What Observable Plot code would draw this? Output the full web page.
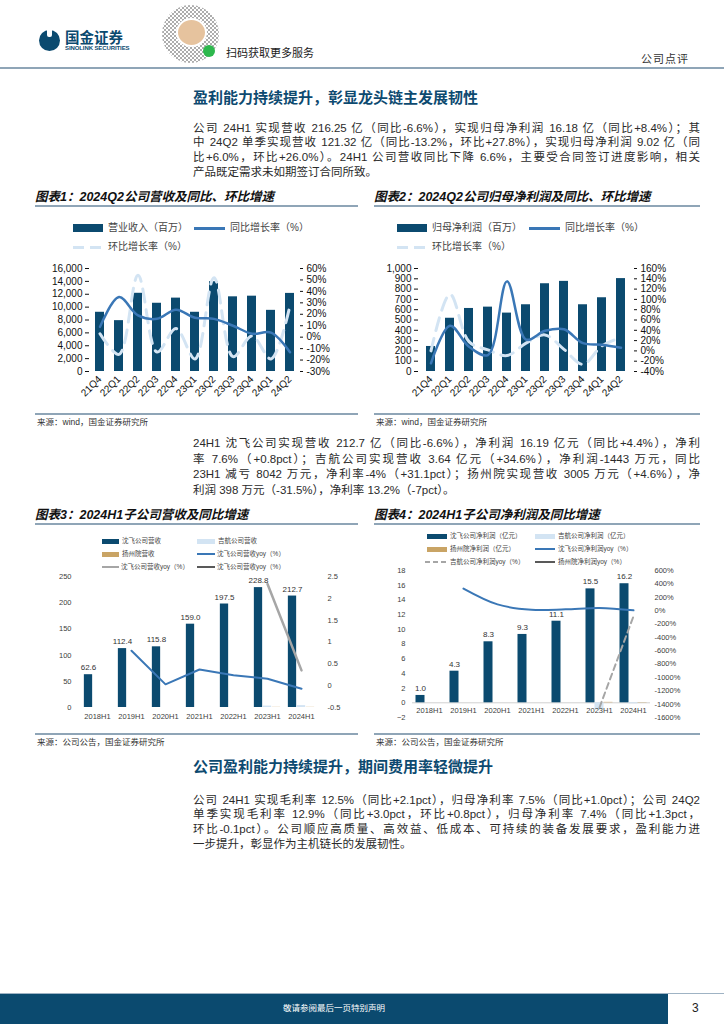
<!DOCTYPE html>
<html><head><meta charset="utf-8">
<script src="https://cdn.jsdelivr.net/npm/d3@7"></script>
<script src="https://cdn.jsdelivr.net/npm/@observablehq/plot@0.6"></script>
<style>
html,body{margin:0;padding:0}
body{width:724px;height:1024px;position:relative;overflow:hidden;background:#fff;font-family:"Liberation Sans","Noto Sans CJK SC",sans-serif;color:#222}
.a{position:absolute}
.h{font-weight:700;color:#0d4a70;font-size:15px;line-height:18px;white-space:nowrap}
.p{left:193px;width:507px;font-size:11.5px;color:#2a2a2a}
.p div{text-align:justify;text-align-last:justify;white-space:nowrap}
.p div.last{text-align:left;text-align-last:left}
.t{font-weight:700;font-style:italic;font-size:12.5px;line-height:16px;color:#111;white-space:nowrap}
.rule{height:1.5px;background:#8fa5b7}
.src{font-size:8.5px;line-height:10px;color:#333;white-space:nowrap}
.lg{white-space:nowrap;display:flex;align-items:center;color:#444}
</style></head><body>
<script>
// ---------- data ----------
const quarters=["21Q4","22Q1","22Q2","22Q3","22Q4","23Q1","23Q2","23Q3","23Q4","24Q1","24Q2"];
const revenue=[9200,7900,12150,10600,11400,9200,13950,11600,11700,9500,12132];
const revenueYoY=[9,35,19,16,24,17,16,10,3,4,-13.2];
const revenueQoQ=[3,-15,54,-13,7.5,-19,52,-17,1,-19,27.8];
const revTicks=[0,2000,4000,6000,8000,10000,12000,14000,16000];
const revPctTicks=[-30,-20,-10,0,10,20,30,40,50,60];

const profit=[243,517,612,625,567,648,852,875,648,716,902];
const profitYoY=[-24,49,8,-8,135,22,39,42,15,12,6];
const profitQoQ=[0,110,18,2,-9,15,31,3,-26,10,26];
const profitTicks=[0,100,200,300,400,500,600,700,800,900,1000];
const profitPctTicks=[-40,-20,0,20,40,60,80,100,120,140,160];

const halfYears=["2018H1","2019H1","2020H1","2021H1","2022H1","2023H1","2024H1"];
const sfRevenue=[62.6,112.4,115.8,159.0,197.5,228.8,212.7];
const jhRevenue=[null,null,null,null,null,2.70,3.64];
const yzRevenue=[null,null,null,null,null,0.29,0.30];
const sfRevenueYoY=[null,0.80,0.03,0.37,0.24,0.16,-0.07];
const jhRevenueYoY=[null,null,null,null,null,2.33,0.35];
const subRevTicks=[0,50,100,150,200,250];
const subRevYoYTicks=[-0.5,0,0.5,1,1.5,2,2.5];

const sfProfit=[1.0,4.3,8.3,9.3,11.1,15.5,16.2];
const jhProfit=[null,null,null,null,null,-0.95,-0.14];
const yzProfit=[null,null,null,null,null,0.06,0.04];
const sfProfitYoY=[null,330,93,12,19,40,4.4];
const jhProfitYoY=[null,null,null,null,null,-1450,-85];
const subProfitTicks=[-2,0,2,4,6,8,10,12,14,16,18];
const subProfitYoYTicks=[-1600,-1400,-1200,-1000,-800,-600,-400,-200,0,200,400,600];

// ---------- colours ----------
const NAVY="#0b4a6f", MID="#3a77b6", LIGHT="#d3e4f3", TAN="#c9a465", GRAY="#a6a6a6", DGRAY="#595959";

// ---------- helpers ----------
function el(html,cls,left,top,style){const d=document.createElement("div");d.className="a "+(cls||"");d.style.left=left+"px";d.style.top=top+"px";if(style)d.style.cssText+=style;d.innerHTML=html;document.body.appendChild(d);return d;}
function place(node,left,top){const d=document.createElement("div");d.className="a";d.style.left=left+"px";d.style.top=top+"px";d.appendChild(node);document.body.appendChild(d);}
function para(lines,top,lh){const d=el("", "p",193,top,"line-height:"+lh+"px");lines.forEach((t,i)=>{const l=document.createElement("div");if(i===lines.length-1)l.className="last";l.textContent=t;d.appendChild(l);});}
function swatch(kind,color,w,h){
  if(kind==="bar"||kind==="line")return `<span style="display:inline-block;width:${w}px;height:${h}px;background:${color}"></span>`;
  const a=kind==="dash2"?5:11, b=kind==="dash2"?8:17;
  return `<span style="display:inline-block;width:${w}px;height:${h}px;background:repeating-linear-gradient(90deg,${color} 0 ${a}px,transparent ${a}px ${b}px)"></span>`;
}
function leg(x,yc,kind,color,label,fs,w,h,gap){
  el(swatch(kind,color,w,h)+`<span style="margin-left:${gap}px;font-size:${fs}px;line-height:${fs+2}px">${label}</span>`,"lg",x,yc-(fs+2)/2,"height:"+(fs+2)+"px");
}

// ---------- header ----------
el("", "",39,30,"width:21px;height:21px;border-radius:50%;background:"+NAVY);
el("", "",47,29,"width:5px;height:8px;background:#fff;border-radius:0 0 2px 2px");
el("国金证券","",65,29,"font-size:14.5px;line-height:18px;font-weight:700;color:"+NAVY+";white-space:nowrap");
el("SINOLINK SECURITIES","",65,45,"font-size:6px;line-height:7px;font-weight:700;color:"+NAVY+";white-space:nowrap;letter-spacing:-0.1px");
el("", "",162,5,"width:57px;height:58px;border-radius:50%;background:repeating-conic-gradient(#6b6b6b 0 25%,#fff 0 50%) 0 0/4px 4px;opacity:0.55");
el("", "",176,18,"width:27px;height:25px;border-radius:50%;background:#e6c39e;border:2px solid #fff");
el("", "",203,45,"width:12px;height:12px;border-radius:50%;background:#2db84d");
el("扫码获取更多服务","",226,46,"font-size:11px;line-height:14px;color:#222;white-space:nowrap");
el("公司点评","",641,52,"font-size:11px;line-height:14px;color:#333;white-space:nowrap;letter-spacing:1px");
el("", "rule",0,67,"width:724px");

// ---------- section 1 ----------
el("盈利能力持续提升，彰显龙头链主发展韧性","h",193,89);
para([
 "公司 24H1 实现营收 216.25 亿（同比-6.6%），实现归母净利润 16.18 亿（同比+8.4%）；其",
 "中 24Q2 单季实现营收 121.32 亿（同比-13.2%，环比+27.8%），实现归母净利润 9.02 亿（同",
 "比+6.0%，环比+26.0%）。24H1 公司营收同比下降 6.6%，主要受合同签订进度影响，相关",
 "产品既定需求未如期签订合同所致。"],120.6,14.7);

// chart titles 1/2
el("图表1：2024Q2公司营收及同比、环比增速","t",35,189);
el("", "rule",35,205,"width:323px");
el("图表2：2024Q2公司归母净利润及同比、环比增速","t",374,189);
el("", "rule",374,205,"width:326px");

// legends 1/2
leg(73,228,"bar",NAVY,"营业收入（百万）",10,30,8,5);
leg(194,228,"line",MID,"同比增长率（%）",10,31,3,5);
leg(73,247,"dash",LIGHT,"环比增长率（%）",10,30,3,5);
leg(397,228,"bar",NAVY,"归母净利润（百万）",10,30,8,5);
leg(529,228,"line",MID,"同比增长率（%）",10,31,3,5);
leg(397,247,"dash",LIGHT,"环比增长率（%）",10,30,3,5);

// chart 1
const y1=p=>(p+30)/90*16000, y1i=v=>v/16000*90-30;
const d1=quarters.map((q,i)=>({q,v:revenue[i],yoy:y1(revenueYoY[i]),qoq:y1(revenueQoQ[i])}));
place(Plot.plot({
  width:330,height:161,marginLeft:59,marginRight:61,marginTop:13,marginBottom:45,
  style:{fontFamily:"Liberation Sans, Arial, sans-serif",fontSize:"10px",color:"#111",background:"transparent",overflow:"visible"},
  x:{domain:quarters,paddingInner:0.53,paddingOuter:0.23},
  y:{domain:[0,16000]},
  marks:[
    Plot.barY(d1,{x:"q",y:"v",fill:NAVY}),
    Plot.line(d1,{x:"q",y:"qoq",stroke:LIGHT,strokeWidth:3,strokeDasharray:"13 8",curve:"catmull-rom"}),
    Plot.line(d1,{x:"q",y:"yoy",stroke:MID,strokeWidth:2.5,curve:"catmull-rom"}),
    Plot.axisY(revTicks,{anchor:"left",tickSize:4,tickPadding:3,tickFormat:d3.format(","),line:true,label:null}),
    Plot.axisY(revPctTicks.map(y1),{anchor:"right",tickSize:3,tickPadding:4,tickFormat:d=>Math.round(y1i(d))+"%",line:true,label:null}),
    Plot.axisX({tickRotate:-45,tickSize:0,tickPadding:6,line:true,label:null})
  ]}),30,255);

// chart 2
const y2=p=>(p+40)/200*1000, y2i=v=>v/1000*200-40;
const d2=quarters.map((q,i)=>({q,v:profit[i],yoy:y2(profitYoY[i]),qoq:y2(profitQoQ[i])}));
place(Plot.plot({
  width:330,height:161,marginLeft:48,marginRight:67,marginTop:13,marginBottom:45,
  style:{fontFamily:"Liberation Sans, Arial, sans-serif",fontSize:"10px",color:"#111",background:"transparent",overflow:"visible"},
  x:{domain:quarters,paddingInner:0.51,paddingOuter:0.27},
  y:{domain:[0,1000]},
  marks:[
    Plot.barY(d2,{x:"q",y:"v",fill:NAVY}),
    Plot.line(d2,{x:"q",y:"qoq",stroke:LIGHT,strokeWidth:3,strokeDasharray:"13 8",curve:"catmull-rom"}),
    Plot.line(d2,{x:"q",y:"yoy",stroke:MID,strokeWidth:2.5,curve:"catmull-rom"}),
    Plot.axisY(profitTicks,{anchor:"left",tickSize:4,tickPadding:3,tickFormat:d3.format(","),line:true,label:null}),
    Plot.axisY(profitPctTicks.map(y2),{anchor:"right",tickSize:3,tickPadding:4,tickFormat:d=>Math.round(y2i(d))+"%",line:true,label:null}),
    Plot.axisX({tickRotate:-45,tickSize:0,tickPadding:6,line:true,label:null})
  ]}),370,255);

// sources 1/2
el("", "rule",35,413,"width:323px");
el("", "rule",374,413,"width:326px");
el("来源：wind，国金证券研究所","src",37,417);
el("来源：wind，国金证券研究所","src",376,417);

// ---------- paragraph 2 ----------
para([
 "24H1 沈飞公司实现营收 212.7 亿（同比-6.6%），净利润 16.19 亿元（同比+4.4%），净利",
 "率 7.6%（+0.8pct）；吉航公司实现营收 3.64 亿元（+34.6%），净利润-1443 万元，同比",
 "23H1 减亏 8042 万元，净利率-4%（+31.1pct）；扬州院实现营收 3005 万元（+4.6%），净",
 "利润 398 万元（-31.5%），净利率 13.2%（-7pct）。"],436,15.7);

// chart titles 3/4
el("图表3：2024H1子公司营收及同比增速","t",35,507);
el("", "rule",35,523,"width:323px");
el("图表4：2024H1子公司净利润及同比增速","t",374,507);
el("", "rule",374,523,"width:326px");

// legends 3
const F3=6.5;
leg(102,541,"bar",NAVY,"沈飞公司营收",F3,17,5,3);
leg(197,541,"bar",LIGHT,"吉航公司营收",F3,18,5,3);
leg(102,554,"bar",TAN,"扬州院营收",F3,17,5,3);
leg(197,554,"line",MID,"沈飞公司营收yoy（%）",F3,18,2,2);
leg(102,567,"line",GRAY,"沈飞公司营收yoy（%）",F3,17,2,2);
leg(197,567,"line",DGRAY,"沈飞公司营收yoy（%）",F3,18,2,2);
// legends 4
leg(427,536,"bar",NAVY,"沈飞公司净利润（亿元）",F3,20,5,3);
leg(535,536,"bar",LIGHT,"吉航公司净利润（亿元）",F3,20,5,3);
leg(427,549,"bar",TAN,"扬州院净利润（亿元）",F3,20,5,3);
leg(535,549,"line",MID,"沈飞公司净利润yoy（%）",F3,20,2,3);
leg(425,562,"dash2",GRAY,"吉航公司净利润yoy（%）",F3,22,2,3);
leg(535,562,"line",DGRAY,"扬州院净利润yoy（%）",F3,20,2,3);

// chart 3
const y3=r=>(r+0.5)/3*250, y3i=v=>v/250*3-0.5;
const r3=halfYears.map((h,i)=>({h,sf:sfRevenue[i],jh:jhRevenue[i],yz:yzRevenue[i],
  sy:sfRevenueYoY[i]==null?null:y3(sfRevenueYoY[i]),jy:jhRevenueYoY[i]==null?null:y3(jhRevenueYoY[i])}));
const W3=330,L3=47,R3=40,BW=9;
const in3=((W3-L3-R3)/halfYears.length-BW)/2;
place(Plot.plot({
  width:W3,height:162,marginLeft:L3,marginRight:R3,marginTop:11,marginBottom:20,
  style:{fontFamily:"Liberation Sans, Arial, sans-serif",fontSize:"7.5px",color:"#404040",background:"transparent",overflow:"visible"},
  x:{domain:halfYears,padding:0},
  y:{domain:[0,250]},
  marks:[
    Plot.barY(r3,{x:"h",y:"sf",fill:NAVY,insetLeft:in3,insetRight:in3,dx:-BW}),
    Plot.barY(r3,{x:"h",y:"jh",fill:LIGHT,insetLeft:in3,insetRight:in3}),
    Plot.barY(r3,{x:"h",y:"yz",fill:TAN,insetLeft:in3,insetRight:in3,dx:BW}),
    Plot.line(r3.filter(d=>d.sy!=null),{x:"h",y:"sy",stroke:MID,strokeWidth:2}),
    Plot.line(r3.filter(d=>d.jy!=null),{x:"h",y:"jy",stroke:GRAY,strokeWidth:2.5}),
    Plot.text(r3,{x:"h",y:"sf",text:d=>d.sf.toFixed(1),dx:-BW,dy:-7,fill:"#333",fontSize:8}),
    Plot.axisY(subRevTicks,{anchor:"left",tickSize:0,tickPadding:6,line:true,stroke:"#bfbfbf",label:null}),
    Plot.axisY(subRevYoYTicks.map(y3),{anchor:"right",tickSize:0,tickPadding:7,line:true,stroke:"#bfbfbf",tickFormat:d=>String(+y3i(d).toFixed(1)),label:null}),
    Plot.axisX({tickSize:0,tickPadding:6,line:true,stroke:"#d0d0d0",label:null})
  ]}),30,565);

// chart 4
const y4=r=>-2+(r+1600)/2200*20, y4i=v=>(v+2)/20*2200-1600;
const r4=halfYears.map((h,i)=>({h,sf:sfProfit[i],jh:jhProfit[i],yz:yzProfit[i],
  sy:sfProfitYoY[i]==null?null:y4(sfProfitYoY[i]),jy:jhProfitYoY[i]==null?null:y4(jhProfitYoY[i])}));
const W4=330,L4=42,R4=50;
const in4=((W4-L4-R4)/halfYears.length-BW)/2;
place(Plot.plot({
  width:W4,height:165,marginLeft:L4,marginRight:R4,marginTop:10,marginBottom:8,
  style:{fontFamily:"Liberation Sans, Arial, sans-serif",fontSize:"7.5px",color:"#404040",background:"transparent",overflow:"visible"},
  x:{domain:halfYears,padding:0,axis:null},
  y:{domain:[-2,18],axis:null},
  marks:[
    Plot.ruleY([0],{stroke:"#d0d0d0"}),
    Plot.barY(r4,{x:"h",y:"sf",fill:NAVY,insetLeft:in4,insetRight:in4,dx:-BW}),
    Plot.barY(r4,{x:"h",y:"jh",fill:LIGHT,insetLeft:in4,insetRight:in4}),
    Plot.barY(r4,{x:"h",y:"yz",fill:TAN,insetLeft:in4,insetRight:in4,dx:BW}),
    Plot.line(r4.filter(d=>d.sy!=null),{x:"h",y:"sy",stroke:MID,strokeWidth:2,curve:"catmull-rom"}),
    Plot.line(r4.filter(d=>d.jy!=null),{x:"h",y:"jy",stroke:GRAY,strokeWidth:2,strokeDasharray:"6 4"}),
    Plot.text(r4,{x:"h",y:"sf",text:d=>d.sf.toFixed(1),dx:-BW,dy:-7,fill:"#333",fontSize:8}),
    Plot.text(halfYears,{x:d=>d,y:()=>0,dy:8,fill:"#404040",fontSize:7.5}),
    Plot.axisY(subProfitTicks,{anchor:"left",tickSize:0,tickPadding:7,line:true,stroke:"#bfbfbf",label:null}),
    Plot.axisY(subProfitYoYTicks.map(y4),{anchor:"right",tickSize:0,tickPadding:4,line:true,stroke:"#bfbfbf",tickFormat:d=>Math.round(y4i(d))+"%",label:null})
  ]}),370,560);

// sources 3/4
el("", "rule",35,733,"width:323px");
el("", "rule",374,733,"width:326px");
el("来源：公司公告，国金证券研究所","src",37,737);
el("来源：公司公告，国金证券研究所","src",376,737);

// ---------- section 2 ----------
el("公司盈利能力持续提升，期间费用率轻微提升","h",193,758);
para([
 "公司 24H1 实现毛利率 12.5%（同比+2.1pct），归母净利率 7.5%（同比+1.0pct）；公司 24Q2",
 "单季实现毛利率 12.9%（同比+3.0pct，环比+0.8pct），归母净利率 7.4%（同比+1.3pct，",
 "环比-0.1pct）。公司顺应高质量、高效益、低成本、可持续的装备发展要求，盈利能力进",
 "一步提升，彰显作为主机链长的发展韧性。"],792.6,14.8);

// ---------- footer ----------
el("", "",0,993,"width:724px;height:1px;background:#9fb3c4");
el("", "",0,994,"width:668px;height:30px;background:"+NAVY);
el("敬请参阅最后一页特别声明","",0,1003,"width:668px;text-align:center;font-size:8.5px;line-height:10px;color:#fff;white-space:nowrap");
el("3","",692,1001,"font-size:12px;line-height:14px;color:#222");
</script>
</body></html>
